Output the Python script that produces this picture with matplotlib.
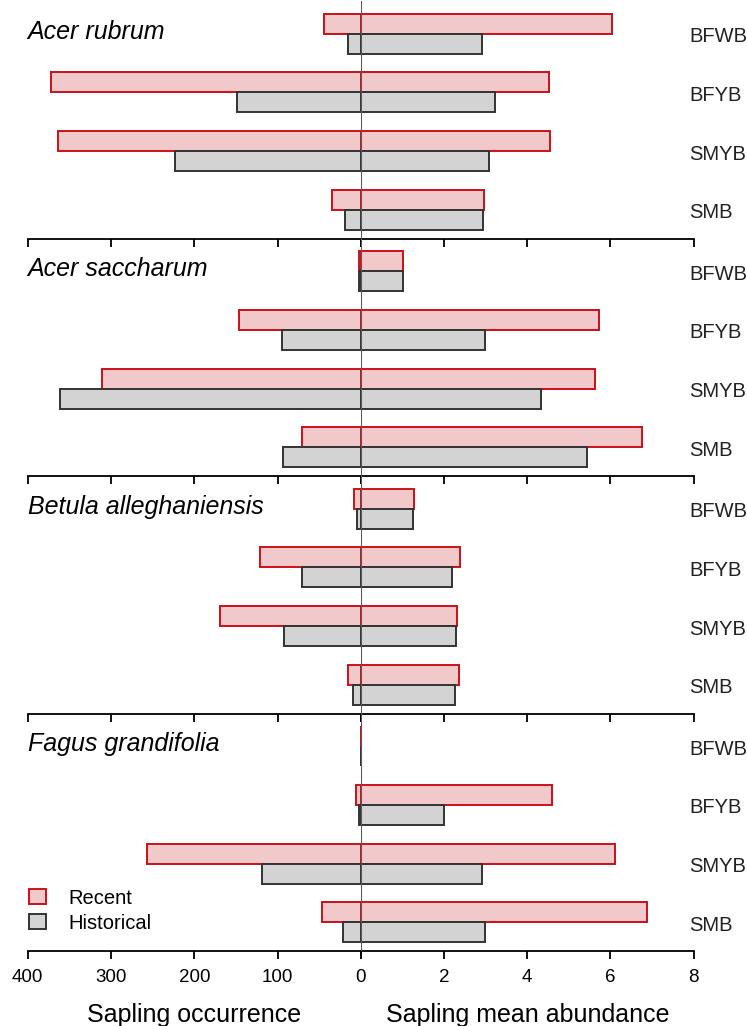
import numpy as np
import matplotlib.pyplot as plt
from matplotlib.patches import Patch

plt.rcParams['font.family'] = ['Liberation Sans', 'DejaVu Sans']

species = ["Acer rubrum", "Acer saccharum", "Betula alleghaniensis", "Fagus grandifolia"]
groups = ["BFWB", "BFYB", "SMYB", "SMB"]

# sapling occurrence (left side)
occ_recent = [
    [44, 372, 363, 35],
    [2, 146, 311, 71],
    [8, 121, 169, 15],
    [0, 6, 257, 47],
]
occ_hist = [
    [15, 149, 223, 19],
    [2, 95, 361, 93],
    [5, 71, 92, 9],
    [0, 2, 119, 21],
]
# sapling mean abundance (right side)
abu_recent = [
    [6.03, 4.52, 4.54, 2.96],
    [1.00, 5.73, 5.63, 6.75],
    [1.27, 2.38, 2.30, 2.35],
    [0.00, 4.60, 6.10, 6.87],
]
abu_hist = [
    [2.92, 3.23, 3.08, 2.93],
    [1.00, 2.98, 4.33, 5.44],
    [1.25, 2.18, 2.28, 2.25],
    [0.00, 1.99, 2.92, 2.99],
]

red_face = '#f2c9cb'
red_edge = '#cc1018'
grey_face = '#d3d3d3'
grey_edge = '#333333'

fig = plt.figure(figsize=(7.47, 10.26), dpi=100)

left = 27.6 / 747
mid = 361.0 / 747
right = 693.6 / 747
ph = 237.5 / 1026
bottom0 = 1 - 951.0 / 1026

yc = np.arange(len(groups))
h = 0.341

for i, sp in enumerate(species):
    b = bottom0 + (3 - i) * ph
    axl = fig.add_axes([left, b, mid - left, ph])
    axr = fig.add_axes([mid, b, right - mid, ph])

    axl.barh(yc - h / 2, occ_recent[i], height=h, color=red_face,
             edgecolor=red_edge, linewidth=1.4, zorder=2)
    axl.barh(yc + h / 2, occ_hist[i], height=h, color=grey_face,
             edgecolor=grey_edge, linewidth=1.4, zorder=2)
    axr.barh(yc - h / 2, abu_recent[i], height=h, color=red_face,
             edgecolor=red_edge, linewidth=1.4, zorder=2)
    axr.barh(yc + h / 2, abu_hist[i], height=h, color=grey_face,
             edgecolor=grey_edge, linewidth=1.4, zorder=2)
    axr.axvline(0, color='#5a5a5a', linewidth=0.8, zorder=3)

    axl.set_xlim(400, 0)
    axr.set_xlim(0, 8)
    for ax in (axl, axr):
        ax.set_ylim(3.489, -0.557)
        ax.set_yticks([])
        for s in ('top', 'left', 'right'):
            ax.spines[s].set_visible(False)
        ax.spines['bottom'].set_linewidth(1.3)
        ax.tick_params(axis='x', length=6, width=1.3, labelsize=13.5, pad=7)
        ax.set_facecolor('none')
    axl.set_xticks([400, 300, 200, 100, 0])
    axr.set_xticks([0, 2, 4, 6, 8])
    if i < 3:
        axl.set_xticklabels([])
        axr.set_xticklabels([])
    else:
        axl.set_xticklabels(['400', '300', '200', '100', ''])
        axl.set_xlabel('Sapling occurrence', fontsize=18, labelpad=12)
        axr.set_xlabel('Sapling mean abundance', fontsize=18, labelpad=12)

    axl.text(0, -0.03, sp, transform=axl.get_yaxis_transform(), fontsize=18,
             style='italic', ha='left', va='center')
    for j, g in enumerate(groups):
        axr.text(7.89, yc[j] + 0.05, g, fontsize=14.5, ha='left', va='center',
                 color='#222222', clip_on=False)

handles = [Patch(facecolor=red_face, edgecolor=red_edge, linewidth=1.4, label='Recent'),
           Patch(facecolor=grey_face, edgecolor=grey_edge, linewidth=1.4, label='Historical')]
fig.legend(handles=handles, loc='center left', bbox_to_anchor=(29 / 747, 1 - 910.7 / 1026),
           frameon=False, fontsize=14.5, handlelength=0.85, handleheight=0.75,
           handletextpad=1.1, labelspacing=0.3, borderpad=0, borderaxespad=0)

fig.savefig('out.png', dpi=100)
